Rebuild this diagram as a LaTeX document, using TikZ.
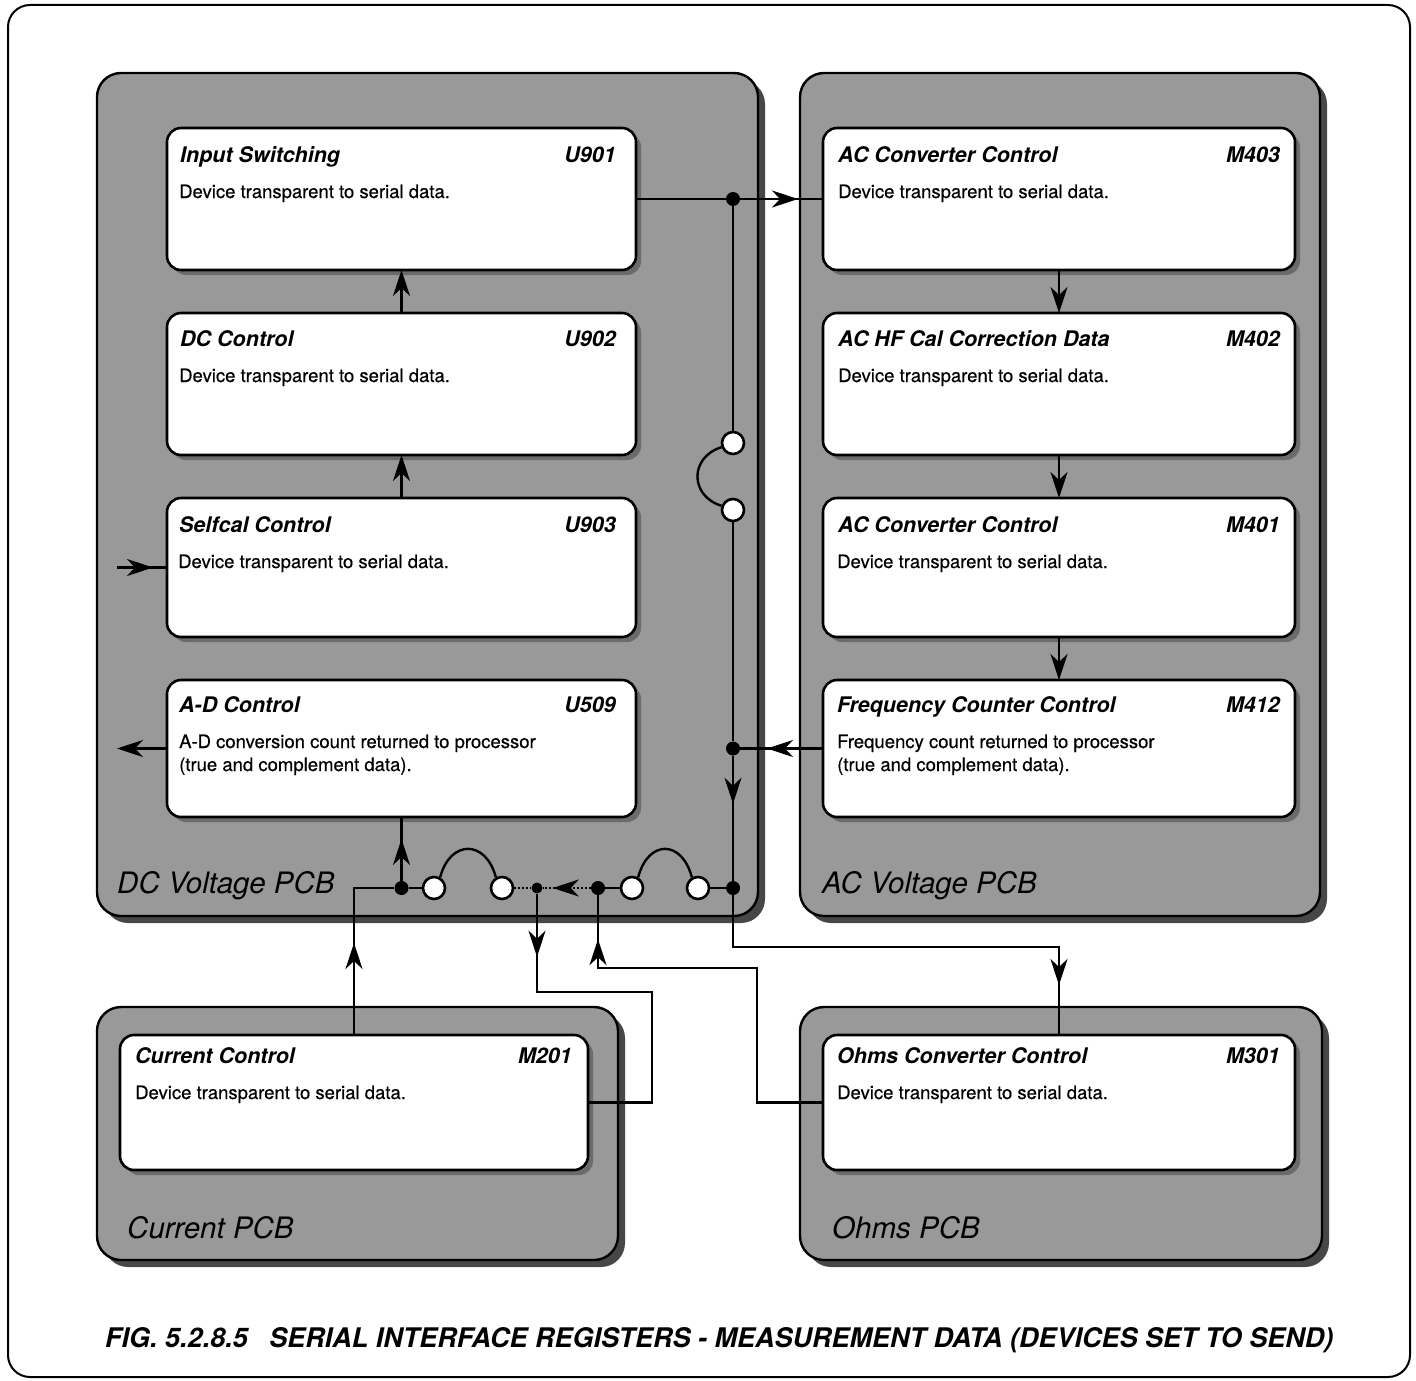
\documentclass[tikz,border=0pt]{standalone}
\usepackage{fontspec}
\setmainfont{TeX Gyre Heros}
\newfontfamily\descfont[FakeBold=0.5]{TeX Gyre Heros}
\usetikzlibrary{arrows.meta,decorations.markings,calc}
\tikzset{
  pcb/.style={draw=black, line width=2.4pt, fill=black!40, rounded corners=24pt},
  pcbshadow/.style={fill=black!72, rounded corners=24pt},
  devbox/.style={draw=black, line width=2.6pt, fill=white, rounded corners=14pt, inner sep=0pt, outer sep=0pt},
  devshadow/.style={fill=black!58, rounded corners=14pt},
  ttl/.style={anchor=base west, font=\fontsize{21.5}{24}\selectfont\bfseries\itshape, inner sep=0pt},
  refd/.style={anchor=base east, font=\fontsize{21.5}{24}\selectfont\bfseries\itshape, inner sep=0pt},
  desc/.style={anchor=base west, font=\descfont\fontsize{18.5}{23}\selectfont, inner sep=0pt},
  pcblabel/.style={anchor=base west, font=\fontsize{29.5}{30}\selectfont\itshape, inner sep=0pt},
  caption/.style={anchor=base west, font=\fontsize{27}{29}\selectfont\bfseries\itshape, inner sep=0pt},
  wire/.style={line width=2.4pt},
  dotwire/.style={line width=2pt, dotted},
  tip/.style={-{Stealth[length=26pt,width=17pt,inset=8pt]}},
  marr/.style={postaction={decorate}, decoration={markings, mark=at position #1 with {\arrow{Stealth[length=26pt,width=17pt,inset=8pt]}}}},
  jdot/.style={circle, fill=black, inner sep=0pt, minimum size=14pt},
  sdot/.style={circle, fill=black, inner sep=0pt, minimum size=11pt},
  ring/.style={circle, draw=black, fill=white, line width=2.6pt, inner sep=0pt, minimum size=22pt},
}
\begin{document}
\begin{tikzpicture}[x=1pt,y=-1pt]
\useasboundingbox (0,0) rectangle (1416,1381);
% outer frame
\draw[line width=2pt, rounded corners=22pt] (8,5) rectangle (1410,1377);

% PCBs
\fill[pcbshadow] (104,80) rectangle (765,923);
\draw[pcb] (97,73) rectangle (758,916);
\fill[pcbshadow] (807,80) rectangle (1327,923);
\draw[pcb] (800,73) rectangle (1320,916);
\fill[pcbshadow] (104,1014) rectangle (625,1267);
\draw[pcb] (97,1007) rectangle (618,1260);
\fill[pcbshadow] (807,1014) rectangle (1329,1267);
\draw[pcb] (800,1007) rectangle (1322,1260);

% device box shadows
\foreach \a/\b/\c/\d in {167/128/636/270, 167/313/636/455, 167/498/636/637, 167/680/636/817,
  823/128/1295/270, 823/313/1295/455, 823/498/1295/637, 823/680/1295/817,
  120/1035/588/1170, 823/1035/1295/1170}
  \fill[devshadow] (\a+5,\b+5) rectangle (\c+5,\d+5);

% device boxes
\node[devbox, minimum width=469pt, minimum height=142pt, anchor=north west] (u901) at (167,128) {};
\node[devbox, minimum width=469pt, minimum height=142pt, anchor=north west] (u902) at (167,313) {};
\node[devbox, minimum width=469pt, minimum height=139pt, anchor=north west] (u903) at (167,498) {};
\node[devbox, minimum width=469pt, minimum height=137pt, anchor=north west] (u509) at (167,680) {};
\node[devbox, minimum width=472pt, minimum height=142pt, anchor=north west] (m403) at (823,128) {};
\node[devbox, minimum width=472pt, minimum height=142pt, anchor=north west] (m402) at (823,313) {};
\node[devbox, minimum width=472pt, minimum height=139pt, anchor=north west] (m401) at (823,498) {};
\node[devbox, minimum width=472pt, minimum height=137pt, anchor=north west] (m412) at (823,680) {};
\node[devbox, minimum width=468pt, minimum height=135pt, anchor=north west] (m201) at (120,1035) {};
\node[devbox, minimum width=472pt, minimum height=135pt, anchor=north west] (m301) at (823,1035) {};

% texts DC
\node[ttl] (t901) at (180,162) {Input Switching};
\node[refd] (r901) at (616,162) {U901};
\node[desc] (d901) at (179,198) {Device transparent to serial data.};
\node[ttl] (t902) at (180,346) {DC Control};
\node[refd] (r902) at (616,346) {U902};
\node[desc] (d902) at (179,382) {Device transparent to serial data.};
\node[ttl] (t903) at (179,532) {Selfcal Control};
\node[refd] (r903) at (616,532) {U903};
\node[desc] (d903) at (178,568) {Device transparent to serial data.};
\node[ttl] (t509) at (179,712) {A-D Control};
\node[refd] (r509) at (616,712) {U509};
\node[desc] (d509a) at (179,748) {A-D conversion count returned to processor};
\node[desc] (d509b) at (179,771) {(true and complement data).};
% texts AC
\node[ttl] (t403) at (838,162) {AC Converter Control};
\node[refd] (r403) at (1280,162) {M403};
\node[desc] (d403) at (838,198) {Device transparent to serial data.};
\node[ttl] (t402) at (838,346) {AC HF Cal Correction Data};
\node[refd] (r402) at (1280,346) {M402};
\node[desc] (d402) at (838,382) {Device transparent to serial data.};
\node[ttl] (t401) at (838,532) {AC Converter Control};
\node[refd] (r401) at (1280,532) {M401};
\node[desc] (d401t) at (837,568) {Device transparent to serial data.};
\node[ttl] (t412) at (837,712) {Frequency Counter Control};
\node[refd] (r412) at (1280,712) {M412};
\node[desc] (d412a) at (837,748) {Frequency count returned to processor};
\node[desc] (d412b) at (837,771) {(true and complement data).};
% texts lower
\node[ttl] (t201) at (135,1063) {Current Control};
\node[refd] (r201) at (572,1063) {M201};
\node[desc] (d201) at (135,1099) {Device transparent to serial data.};
\node[ttl] (t301) at (837,1063) {Ohms Converter Control};
\node[refd] (r301) at (1280,1063) {M301};
\node[desc] (d301) at (837,1099) {Device transparent to serial data.};

% PCB labels
\node[pcblabel] (ldc) at (117,893) {DC Voltage PCB};
\node[pcblabel] (lac) at (822,893) {AC Voltage PCB};
\node[pcblabel] (lcur) at (127,1238) {Current PCB};
\node[pcblabel] (lohm) at (832,1238) {Ohms PCB};

% caption
\node[caption] (cap) at (105,1347) {FIG. 5.2.8.5\hspace{0.8em}SERIAL INTERFACE REGISTERS - MEASUREMENT DATA (DEVICES SET TO SEND)};

% junctions
\node[jdot] (j196) at (733,199) {};
\node[ring] (r443) at (733,443) {};
\node[ring] (r510) at (733,510) {};
\node[jdot] (j752) at (733,748.5) {};
\node[jdot] (j888) at (733,888) {};
\node[jdot] (j401) at (401.5,888) {};
\node[ring] (r434) at (434,888) {};
\node[ring] (r502) at (502,888) {};
\node[sdot] (j537) at (537,888) {};
\node[jdot] (j598) at (598,888) {};
\node[ring] (r632) at (632,888) {};
\node[ring] (r698) at (698,888) {};
\coordinate (c354) at (354,888);
\coordinate (k1) at (537,992);
\coordinate (k2) at (652,992);
\coordinate (k3) at (757,968);
\coordinate (k4) at (598,968);
\coordinate (k5) at (733,947);
\coordinate (sin) at (117,567.5);
\coordinate (aout) at (117,748.5);

% DC chain
\draw[wire, tip] (u902.north) -- (u901.south);
\draw[wire, tip] (u903.north) -- (u902.south);
\draw[wire, marr=36pt] (sin) -- (u903.west);
\draw[wire, tip] (u509.west) -- (aout);
% AC chain
\draw[wire, tip] (m403.south) -- (m402.north);
\draw[wire, tip] (m402.south) -- (m401.north);
\draw[wire, tip] (m401.south) -- (m412.north);
% top link
\draw[wire] (u901.east) -- (j196);
\draw[wire, marr=-25pt] (j196) -- (m403.west);
\draw[wire] (j196) -- (r443);
\draw[wire] (r443.200) .. controls +(-32,10) and +(-32,-10) .. (r510.160);
\draw[wire] (r510) -- (j752);
\draw[wire, marr=56pt] (m412.west) -- (j752);
\draw[wire, marr=48pt] (j752) -- (j888);
% bottom bus
\draw[wire, marr=92pt] (m201.north) -- (c354) -- (j401);
\draw[wire, marr=-22pt] (j401) -- (u509.south);
\draw[wire] (j401) -- (r434);
\draw[wire] (r434.60) .. controls +(10,-38) and +(-10,-38) .. (r502.120);
\draw[dotwire] (r502) -- (j537);
\draw[dotwire, marr=38pt] (j598) -- (j537);
\draw[wire] (j598) -- (r632);
\draw[wire] (r632.60) .. controls +(10,-38) and +(-10,-38) .. (r698.120);
\draw[wire] (r698) -- (j888);
% links to lower PCBs
\draw[wire, marr=63pt] (j537) -- (k1) -- (k2) |- (m201.east);
\draw[wire, marr=-44pt] (m301.west) -| (k3) -- (k4) -- (j598);
\draw[wire, marr=-50pt] (j888) -- (k5) -| (m301.north);
\end{tikzpicture}
\end{document}
